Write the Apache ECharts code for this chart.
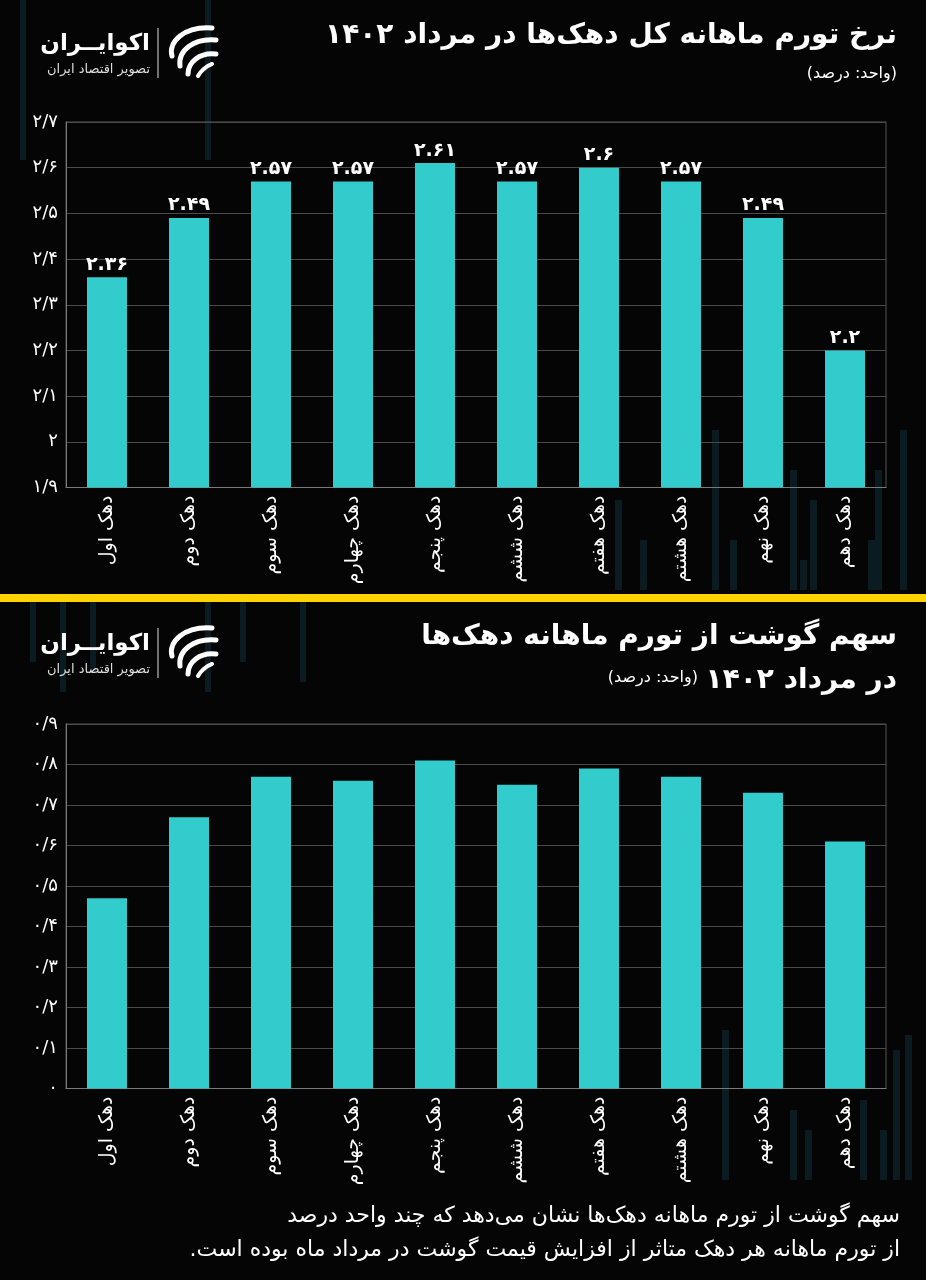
<!DOCTYPE html>
<html lang="fa">
<head>
<meta charset="utf-8">
<script src="https://cdn.jsdelivr.net/npm/echarts@6/dist/echarts.min.js"></script>
<style>
  html,body{margin:0;padding:0;background:#050505;}
  #chart{width:926px;height:1280px;direction:rtl;}
</style>
</head>
<body>
<div id="chart"></div>
<script>
// ---- data ----
const categories = ['دهک اول','دهک دوم','دهک سوم','دهک چهارم','دهک پنجم','دهک ششم','دهک هفتم','دهک هشتم','دهک نهم','دهک دهم'];
const inflationValues = [2.36, 2.49, 2.57, 2.57, 2.61, 2.57, 2.6, 2.57, 2.49, 2.2];
const meatShareValues = [0.47, 0.67, 0.77, 0.76, 0.81, 0.75, 0.79, 0.77, 0.73, 0.61];
const topAxisRange = [1.9, 2.7];
const bottomAxisRange = [0, 0.9];
const title1 = 'نرخ تورم ماهانه کل دهک‌ها در مرداد ۱۴۰۲';
const title2a = 'سهم گوشت از تورم ماهانه دهک‌ها';
const title2b = 'در مرداد ۱۴۰۲';
const unitText = '(واحد: درصد)';
const footer1 = 'سهم گوشت از تورم ماهانه دهک‌ها نشان می‌دهد که چند واحد درصد';
const footer2 = 'از تورم ماهانه هر دهک متاثر از افزایش قیمت گوشت در مرداد ماه بوده است.';
const logoName = 'اکوایــران';
const logoSub = 'تصویر اقتصاد ایران';

// ---- helpers ----
const FONT = "'DejaVu Sans', 'Noto Sans', sans-serif";
const faDigits = '۰۱۲۳۴۵۶۷۸۹';
function toFa(s){ return String(s).replace(/[0-9]/g, d => faDigits[+d]); }
function axisFmt(v){ const n = Number(v.toFixed(1)); return toFa(String(n).replace('.', '/')); }

const BAR = '#33CCCC';
const GRIDLINE = '#4a4a4a';
const AXIS = '#7a7a7a';

function curve(x1,y1,c1x,c1y,c2x,c2y,x2,y2,w){
  return {type:'bezierCurve', shape:{x1:x1,y1:y1,cpx1:c1x,cpy1:c1y,cpx2:c2x,cpy2:c2y,x2:x2,y2:y2},
          style:{stroke:'#fff', lineWidth:w, fill:null, lineCap:'round'}};
}
function logo(yOff){
  const cx = 194, cy = 50 + yOff;
  return {
    type:'group',
    children:[
      {type:'text', style:{x:150, y:44+yOff, text:logoName, font:'bold 23px '+FONT, fill:'#fff', align:'right', verticalAlign:'middle'}},
      {type:'text', style:{x:150, y:70+yOff, text:logoSub, font:'13px '+FONT, fill:'#ddd', align:'right', verticalAlign:'middle'}},
      {type:'line', shape:{x1:158, y1:28+yOff, x2:158, y2:78+yOff}, style:{stroke:'#ddd', lineWidth:1}},
      curve(cx+18,cy-22, cx-10,cy-24, cx-26,cy-8, cx-22,cy+6, 5),
      curve(cx+22,cy-10, cx,cy-12, cx-16,cy, cx-14,cy+16, 5),
      curve(cx+22,cy+4, cx+6,cy+2, cx-6,cy+12, cx-6,cy+24, 5),
      curve(cx+18,cy+14, cx+12,cy+16, cx+6,cy+22, cx+4,cy+26, 4)
    ]
  };
}

// faint decorative background stripes
const deco = [];
const decoSpecs = [
  [20,0,6,160],[205,0,6,160],[30,602,6,60],[60,602,6,90],[90,602,6,70],[205,602,6,90],[240,602,6,60],[300,602,6,80],
  [615,500,7,90],[640,540,7,50],[712,430,7,160],[730,540,7,50],[790,470,7,120],[800,560,7,30],[810,500,7,90],[868,540,7,50],[875,470,7,120],[900,430,7,160],
  [722,1030,7,150],[805,1130,7,50],[790,1110,7,70],[893,1050,7,130],[860,1100,7,80],[880,1130,7,50],[905,1035,7,145]
];
decoSpecs.forEach(d => deco.push({type:'rect', z:-10, silent:true, shape:{x:d[0], y:d[1], width:d[2], height:d[3]}, style:{fill:'#0a1c22'}}));

const chart = echarts.init(document.getElementById('chart'), null, {renderer:'canvas'});

const xAxisCommon = {
  type:'category', data:categories,
  axisLine:{lineStyle:{color:AXIS}}, axisTick:{show:false},
  axisLabel:{rotate:90, color:'#fff', fontSize:19, fontFamily:FONT, margin:8, interval:0}
};

const option = {
  backgroundColor:'#050505',
  animation:false,
  textStyle:{fontFamily:FONT},
  grid:[
    {left:66, right:40, top:122, height:365.5, show:true, borderColor:'#555', borderWidth:1, containLabel:false},
    {left:66, right:40, top:724, height:364.5, show:true, borderColor:'#555', borderWidth:1, containLabel:false}
  ],
  xAxis:[
    Object.assign({gridIndex:0}, xAxisCommon),
    Object.assign({gridIndex:1}, xAxisCommon)
  ],
  yAxis:[
    {gridIndex:0, type:'value', min:topAxisRange[0], max:topAxisRange[1], interval:0.1,
     axisLine:{show:true, lineStyle:{color:AXIS}}, axisTick:{show:false},
     splitLine:{lineStyle:{color:GRIDLINE}},
     axisLabel:{color:'#fff', fontSize:18, fontFamily:FONT, margin:8, formatter:axisFmt}},
    {gridIndex:1, type:'value', min:bottomAxisRange[0], max:bottomAxisRange[1], interval:0.1,
     axisLine:{show:true, lineStyle:{color:AXIS}}, axisTick:{show:false},
     splitLine:{lineStyle:{color:GRIDLINE}},
     axisLabel:{color:'#fff', fontSize:18, fontFamily:FONT, margin:8, formatter:axisFmt}}
  ],
  series:[
    {type:'bar', xAxisIndex:0, yAxisIndex:0, data:inflationValues, barWidth:40, itemStyle:{color:BAR},
     label:{show:true, position:'top', distance:3, color:'#fff', fontSize:19, fontWeight:'bold', fontFamily:FONT,
            formatter:p => toFa(String(p.value))}},
    {type:'bar', xAxisIndex:1, yAxisIndex:1, data:meatShareValues, barWidth:40, itemStyle:{color:BAR}}
  ],
  graphic:[
    ...deco,
    {type:'rect', shape:{x:0, y:594, width:926, height:8}, style:{fill:'#FFD200'}},
    {type:'text', style:{x:897, y:36, text:title1, font:'bold 28px '+FONT, fill:'#fff', align:'right', verticalAlign:'middle'}},
    {type:'text', style:{x:897, y:74, text:unitText, font:'16px '+FONT, fill:'#fff', align:'right', verticalAlign:'middle'}},
    logo(0),
    {type:'text', style:{x:897, y:637, text:title2a, font:'bold 28px '+FONT, fill:'#fff', align:'right', verticalAlign:'middle'}},
    {type:'text', style:{x:897, y:681, text:title2b, font:'bold 28px '+FONT, fill:'#fff', align:'right', verticalAlign:'middle'}},
    {type:'text', style:{x:698, y:678, text:unitText, font:'16px '+FONT, fill:'#fff', align:'right', verticalAlign:'middle'}},
    logo(600),
    {type:'text', style:{x:900, y:1216, text:footer1, font:'22px '+FONT, fill:'#fff', align:'right', verticalAlign:'middle'}},
    {type:'text', style:{x:900, y:1250, text:footer2, font:'22px '+FONT, fill:'#fff', align:'right', verticalAlign:'middle'}}
  ]
};
chart.setOption(option);
</script>
</body>
</html>
